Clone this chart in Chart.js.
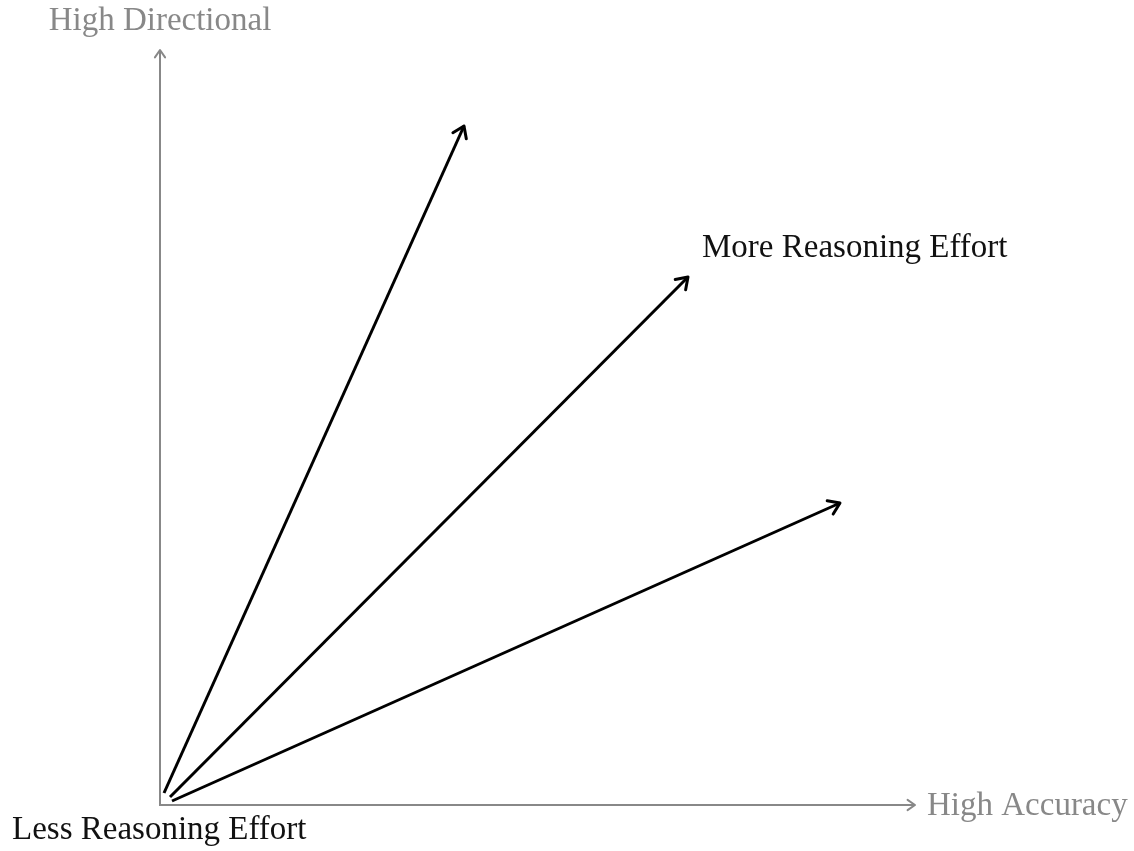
<!DOCTYPE html>
<html>
<head>
<meta charset="utf-8">
<script src="https://cdn.jsdelivr.net/npm/chart.js@4/dist/chart.umd.min.js"></script>
<style>
  html, body { margin: 0; padding: 0; background: #fff; }
  #wrap { width: 1134px; height: 851px; }
</style>
</head>
<body>
<div id="wrap"><canvas id="effortChart"></canvas></div>
<script>
// arrow start/end points (x = accuracy, y = directional)
var arrowStartX = [0.04, 0.10, 0.12];
var arrowStartY = [0.12, 0.08, 0.04];
var arrowEndX = [3.04, 5.28, 6.80];
var arrowEndY = [6.79, 5.28, 3.02];

var axisMax = 7.55;
var labelFont = '33px "Liberation Serif", "DejaVu Serif", serif';
var grey = '#888888';

function drawHead(ctx, x1, y1, x2, y2, size, color, width) {
    var a = Math.atan2(y2 - y1, x2 - x1);
    ctx.save();
    ctx.strokeStyle = color;
    ctx.lineWidth = width;
    ctx.lineCap = 'round';
    ctx.lineJoin = 'round';
    ctx.beginPath();
    ctx.moveTo(x2 - size * Math.cos(a - 0.6), y2 - size * Math.sin(a - 0.6));
    ctx.lineTo(x2, y2);
    ctx.lineTo(x2 - size * Math.cos(a + 0.6), y2 - size * Math.sin(a + 0.6));
    ctx.stroke();
    ctx.restore();
}

// axes with arrow heads and the corner labels
var axesPlugin = {
    id: 'axesPlugin',
    beforeDatasetsDraw: function (chart) {
        var ctx = chart.ctx;
        var xs = chart.scales.x, ys = chart.scales.y;
        var ox = xs.getPixelForValue(0), oy = ys.getPixelForValue(0);
        var ex = xs.getPixelForValue(axisMax), ey = ys.getPixelForValue(axisMax);
        ctx.save();
        ctx.strokeStyle = grey;
        ctx.lineWidth = 2;
        ctx.beginPath();
        ctx.moveTo(ox, ey);
        ctx.lineTo(ox, oy);
        ctx.lineTo(ex, oy);
        ctx.stroke();
        ctx.restore();
        drawHead(ctx, ox, oy, ox, ey, 9, grey, 2);
        drawHead(ctx, ox, oy, ex, oy, 9, grey, 2);

        ctx.save();
        ctx.font = labelFont;
        ctx.textBaseline = 'alphabetic';
        ctx.fillStyle = grey;
        ctx.textAlign = 'center';
        ctx.fillText('High Directional', ox, ey - 20);
        ctx.textAlign = 'left';
        ctx.fillText('High Accuracy', ex + 12, oy + 10);
        ctx.fillStyle = '#111';
        ctx.fillText('Less Reasoning Effort', 12, oy + 34);
        var m = chart.getDatasetMeta(1).data[1];
        ctx.fillText('More Reasoning Effort', m.x + 14, m.y - 20);
        ctx.restore();
    },
    afterDatasetsDraw: function (chart) {
        chart.data.datasets.forEach(function (ds, i) {
            var pts = chart.getDatasetMeta(i).data;
            drawHead(chart.ctx, pts[0].x, pts[0].y, pts[1].x, pts[1].y, 13, '#000', 3);
        });
    }
};

var datasets = arrowEndX.map(function (ex, i) {
    return {
        data: [{ x: arrowStartX[i], y: arrowStartY[i] }, { x: ex, y: arrowEndY[i] }],
        showLine: true,
        borderColor: '#000',
        borderWidth: 3,
        pointRadius: 0,
        fill: false
    };
});

new Chart(document.getElementById('effortChart'), {
    type: 'scatter',
    data: { datasets: datasets },
    options: {
        responsive: true,
        maintainAspectRatio: false,
        animation: false,
        layout: { padding: { left: 160, right: 219, top: 50, bottom: 46 } },
        plugins: { legend: { display: false }, tooltip: { enabled: false } },
        scales: {
            x: { type: 'linear', min: 0, max: axisMax, display: false },
            y: { type: 'linear', min: 0, max: axisMax, display: false }
        }
    },
    plugins: [axesPlugin]
});
</script>
</body>
</html>
